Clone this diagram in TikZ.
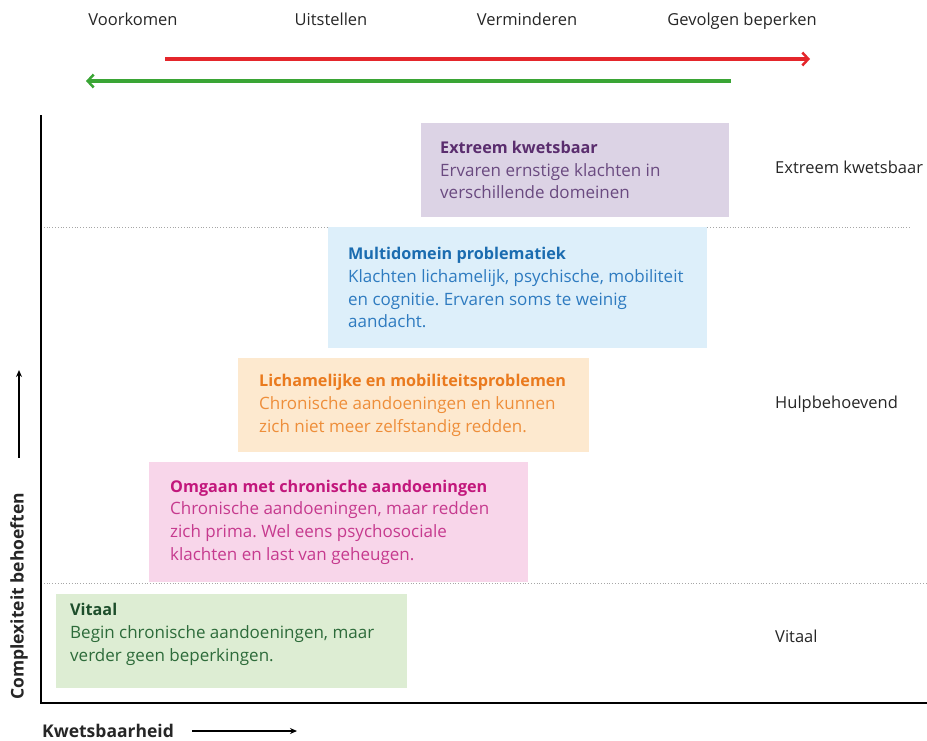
\documentclass[tikz,border=0pt]{standalone}
\usepackage{fontspec}
\setmainfont{Open Sans}
\usepackage{tikz}
\usetikzlibrary{arrows.meta}
\usetikzlibrary{positioning}
\frenchspacing

\definecolor{extfill}{HTML}{DCD3E5}
\definecolor{exttitle}{HTML}{5A2D6E}
\definecolor{exttext}{HTML}{6A4A80}
\definecolor{multifill}{HTML}{DDEFFA}
\definecolor{multititle}{HTML}{1B6CB0}
\definecolor{multitext}{HTML}{2E7BC0}
\definecolor{lichfill}{HTML}{FDE9CF}
\definecolor{lichtitle}{HTML}{EA7A1E}
\definecolor{lichtext}{HTML}{EE8E3A}
\definecolor{chronfill}{HTML}{F8D6EA}
\definecolor{chrontitle}{HTML}{C2177C}
\definecolor{chrontext}{HTML}{C63A8E}
\definecolor{vitfill}{HTML}{DDEDD3}
\definecolor{vittitle}{HTML}{1D4E2B}
\definecolor{vittext}{HTML}{2D6B3A}
\definecolor{redarrow}{HTML}{E4262B}
\definecolor{greenarrow}{HTML}{3AA535}
\newcommand{\stagehead}[2]{{\color{#1}\fontsize{16.2}{22.7}\selectfont\bfseries #2}}

\begin{document}
\begin{tikzpicture}[x=1pt,y=-1pt]
            \tikzset{every node/.style={font=\fontsize{16.5}{22.5}\selectfont, text=black!85},
                    box/.style={anchor=north west, inner sep=0pt},
                    boxtext/.style={anchor=west, inner sep=0pt, align=left, font=\fontsize{17}{22.7}\selectfont},
                    level/.style={anchor=west, inner sep=0pt},
                    phase/.style={anchor=base, inner sep=0pt},
                    axislabel/.style={inner sep=0pt, font=\fontsize{17.5}{20}\selectfont\bfseries},
                    >={Stealth[black, length=7pt, width=6pt]},
                    flow/.style={line width=3.5pt, -{Straight Barb[length=6pt, width=13pt, line width=2.5pt]}},
                    sep/.style={gray!70, dotted, line width=0.8pt}}
            \useasboundingbox (0,0) rectangle (927,740);
            % phases on top
            \node[phase] (voor) at (133,25) {Voorkomen};
            \node[phase] (uit) at (331,25) {Uitstellen};
            \node[phase] (verm) at (527,25) {Verminderen};
            \node[phase] (gev) at (742,25) {Gevolgen beperken};
            \coordinate (r1) at (165,59);
            \coordinate (r2) at (810,59);
            \coordinate (g1) at (731,81);
            \coordinate (g2) at (86,81);
            \draw[flow, redarrow] (r1) -- (r2);
            \draw[flow, greenarrow] (g1) -- (g2);
            % levels
            \coordinate (s1) at (41,227);
            \coordinate (s2) at (910,227);
            \coordinate (s3) at (41,583);
            \coordinate (s4) at (927,583);
            \draw[sep] (s1) -- (s2);
            \draw[sep] (s3) -- (s4);
            \node[level] (lext) at (775,167) {Extreem kwetsbaar};
            \node[level] (lhulp) at (775,404) {Hulpbehoevend};
            \node[level] (lvit) at (775,636) {Vitaal};
            % stages
            \node[box, fill=extfill, minimum width=308pt, minimum height=94pt] (ext) at (421,123) {};
            \node[boxtext, text=exttext, right=19pt of ext.west] (extt) {\stagehead{exttitle}{Extreem kwetsbaar}\\Ervaren ernstige klachten in\\verschillende domeinen};
            \node[box, fill=multifill, minimum width=379pt, minimum height=121pt] (multi) at (328,227) {};
            \node[boxtext, text=multitext, right=20pt of multi.west] (multit) {\stagehead{multititle}{Multidomein problematiek}\\Klachten lichamelijk, psychische, mobiliteit\\en cognitie. Ervaren soms te weinig\\aandacht.};
            \node[box, fill=lichfill, minimum width=351pt, minimum height=94pt] (lich) at (238,358) {};
            \node[boxtext, text=lichtext, right=21pt of lich.west] (licht) {\stagehead{lichtitle}{Lichamelijke en mobiliteitsproblemen}\\Chronische aandoeningen en kunnen\\zich niet meer zelfstandig redden.};
            \node[box, fill=chronfill, minimum width=379pt, minimum height=120pt] (chron) at (149,462) {};
            \node[boxtext, text=chrontext, right=21pt of chron.west] (chront) {\stagehead{chrontitle}{Omgaan met chronische aandoeningen}\\Chronische aandoeningen, maar redden\\zich prima. Wel eens psychosociale\\klachten en last van geheugen.};
            \node[box, fill=vitfill, minimum width=351pt, minimum height=94pt] (vit) at (56,594) {};
            \node[boxtext, text=vittext, right=14pt of vit.west, yshift=7pt] (vitt) {\stagehead{vittitle}{Vitaal}\\Begin chronische aandoeningen, maar\\verder geen beperkingen.};
            % axes
            \coordinate (top) at (41,115);
            \coordinate (origin) at (41,703);
            \coordinate (end) at (927,703);
            \draw[line width=1.5pt] (top) -- (origin) -- (end);
            \node[axislabel, anchor=west] (kw) at (42,731) {Kwetsbaarheid};
            \coordinate (kw2) at (297,731);
            \draw[->, line width=1.2pt] ([xshift=18pt]kw.east) -- (kw2);
            \node[axislabel, rotate=90, anchor=west] (cb) at (19,700) {Complexiteit behoeften};
            \coordinate (cb2) at (19,370);
            \draw[->, line width=1.2pt] ([yshift=35pt]cb.east) -- (cb2);
\end{tikzpicture}
\end{document}
